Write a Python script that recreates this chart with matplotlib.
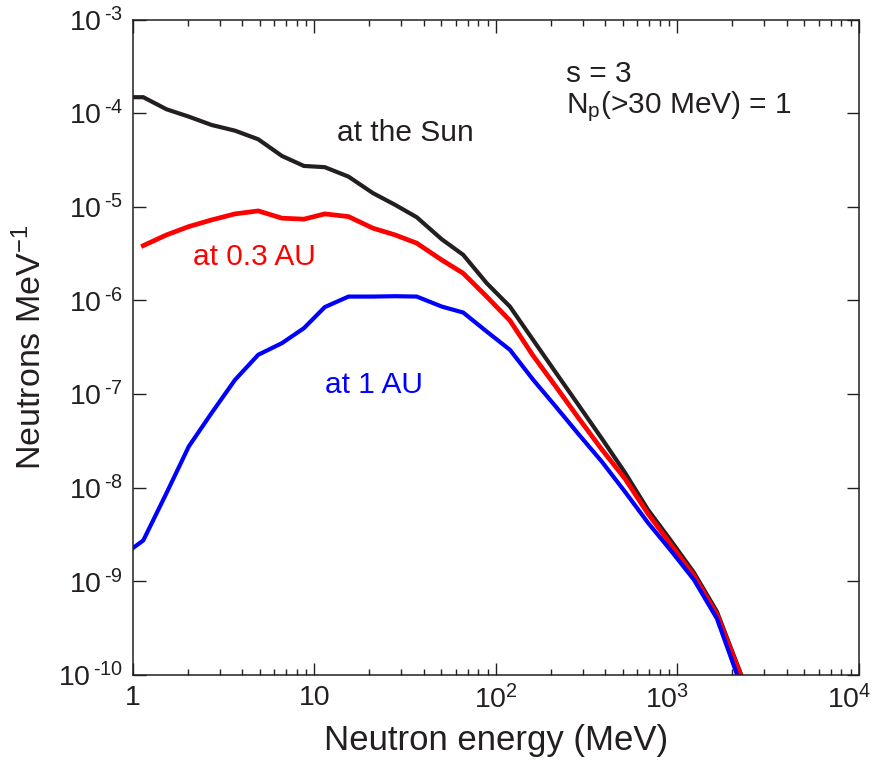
import matplotlib
matplotlib.use("Agg")
import matplotlib.pyplot as plt
import matplotlib.transforms as mtransforms
from matplotlib.ticker import FixedLocator, LogLocator, NullLocator, FixedFormatter

plt.rcParams['font.family'] = ['Liberation Sans', 'DejaVu Sans']
plt.rcParams['mathtext.fontset'] = 'custom'
plt.rcParams['mathtext.rm'] = 'Liberation Sans'
plt.rcParams['mathtext.default'] = 'regular'

##### Spectra (neutrons per MeV) #####
energy = [1.0, 1.14, 1.53, 2.03, 2.71, 3.65, 4.90, 6.62, 8.75, 11.4, 15.4, 21.0,
          27.8, 36.6, 50.2, 66.0, 88.9, 119.4, 160, 214, 287, 384, 514, 688,
          921, 1233, 1651, 2210, 2958]

sun = [1.48e-4, 1.48e-4, 1.10e-4, 9.18e-5, 7.48e-5, 6.50e-5, 5.26e-5, 3.49e-5,
       2.73e-5, 2.65e-5, 2.10e-5, 1.40e-5, 1.05e-5, 7.74e-6, 4.51e-6, 3.07e-6,
       1.53e-6, 8.6e-7, 3.80e-7, 1.69e-7, 7.50e-8, 3.33e-8, 1.45e-8, 5.82e-9,
       2.72e-9, 1.24e-9, 4.75e-10, 1.09e-10, 2.6e-11]

# 0.3 AU curve starts at the second energy bin
au03 = [3.85e-6, 5.01e-6, 6.15e-6, 7.24e-6, 8.40e-6, 9.04e-6, 7.56e-6, 7.38e-6,
        8.40e-6, 7.86e-6, 5.91e-6, 5.01e-6, 4.09e-6, 2.71e-6, 1.95e-6, 1.10e-6,
        6.1e-7, 2.58e-7, 1.20e-7, 5.45e-8, 2.55e-8, 1.25e-8, 5.28e-9, 2.47e-9,
        1.15e-9, 4.42e-10, 1.05e-10, 2.6e-11]

au1 = [2.27e-9, 2.74e-9, 8.77e-9, 2.76e-8, 6.27e-8, 1.42e-7, 2.63e-7, 3.50e-7,
       5.06e-7, 8.49e-7, 1.10e-6, 1.10e-6, 1.11e-6, 1.10e-6, 8.61e-7, 7.43e-7,
       4.66e-7, 2.97e-7, 1.43e-7, 7.32e-8, 3.68e-8, 1.89e-8, 9.06e-9, 4.23e-9,
       2.13e-9, 1.04e-9, 4.00e-10, 8.3e-11, 2.2e-11]

x_ticks = [1, 10, 100, 1000, 10000]
x_ticklabels = ['1', '10', '$10^2$', '$10^3$', '$10^4$']
y_ticks = [1e-10, 1e-9, 1e-8, 1e-7, 1e-6, 1e-5, 1e-4, 1e-3]
y_ticklabels = ['$10^{\\,\u2010%d}$' % k for k in range(10, 2, -1)]

ink = '#231f20'

fig = plt.figure(figsize=(8.72, 7.65), dpi=100)
ax = fig.add_axes([0.1525, 0.1176, 0.8325, 0.8569])

ax.plot(energy, sun, color=ink, lw=3.0, solid_joinstyle='miter')
ax.plot(energy[1:], au03, color='#ff0000', lw=3.4, solid_joinstyle='miter')
ax.plot(energy, au1, color='#0000ff', lw=3.0, solid_joinstyle='miter')

ax.set_xscale('log')
ax.set_yscale('log')
ax.set_xlim(1, 1e4)
ax.set_ylim(1e-10, 1e-3)

ax.xaxis.set_major_locator(FixedLocator(x_ticks))
ax.xaxis.set_major_formatter(FixedFormatter(x_ticklabels))
ax.xaxis.set_minor_locator(LogLocator(base=10, subs=range(2, 10)))
ax.xaxis.set_minor_formatter(plt.NullFormatter())
ax.yaxis.set_major_locator(FixedLocator(y_ticks))
ax.yaxis.set_major_formatter(FixedFormatter(y_ticklabels))
ax.yaxis.set_minor_locator(NullLocator())

ax.tick_params(which='both', direction='in', top=True, right=True,
               color=ink, width=1.0, labelcolor=ink, labelsize=20.5)
ax.tick_params(which='major', length=9, pad=7)
ax.tick_params(which='minor', length=4.5)
for s in ax.spines.values():
    s.set_color(ink)
    s.set_linewidth(1.1)

# nudge the 10^3 and 10^4 labels left so the last one stays inside the figure
shift = mtransforms.ScaledTranslation(-10 / 100, 0, fig.dpi_scale_trans)
for lab in ax.get_xticklabels()[3:]:
    lab.set_transform(lab.get_transform() + shift)

ax.set_xlabel('Neutron energy (MeV)', fontsize=25, color=ink, labelpad=7)
ax.set_ylabel('Neutrons MeV$^{-1}$', fontsize=24.5, color=ink, labelpad=7)

ax.text(0.281, 0.815, 'at the Sun', transform=ax.transAxes, fontsize=21.5,
        color=ink, va='baseline')
ax.text(0.083, 0.625, 'at 0.3 AU', transform=ax.transAxes, fontsize=21.5,
        color='#ff0000', va='baseline')
ax.text(0.2645, 0.430, 'at 1 AU', transform=ax.transAxes, fontsize=21.5,
        color='#0000ff', va='baseline')
ax.text(0.597, 0.905, 's = 3', transform=ax.transAxes, fontsize=21.5,
        color=ink, va='baseline')
ax.text(0.597, 0.857, 'N$_p$(>30 MeV) = 1', transform=ax.transAxes,
        fontsize=21.5, color=ink, va='baseline')

fig.savefig('out.png', dpi=100)
